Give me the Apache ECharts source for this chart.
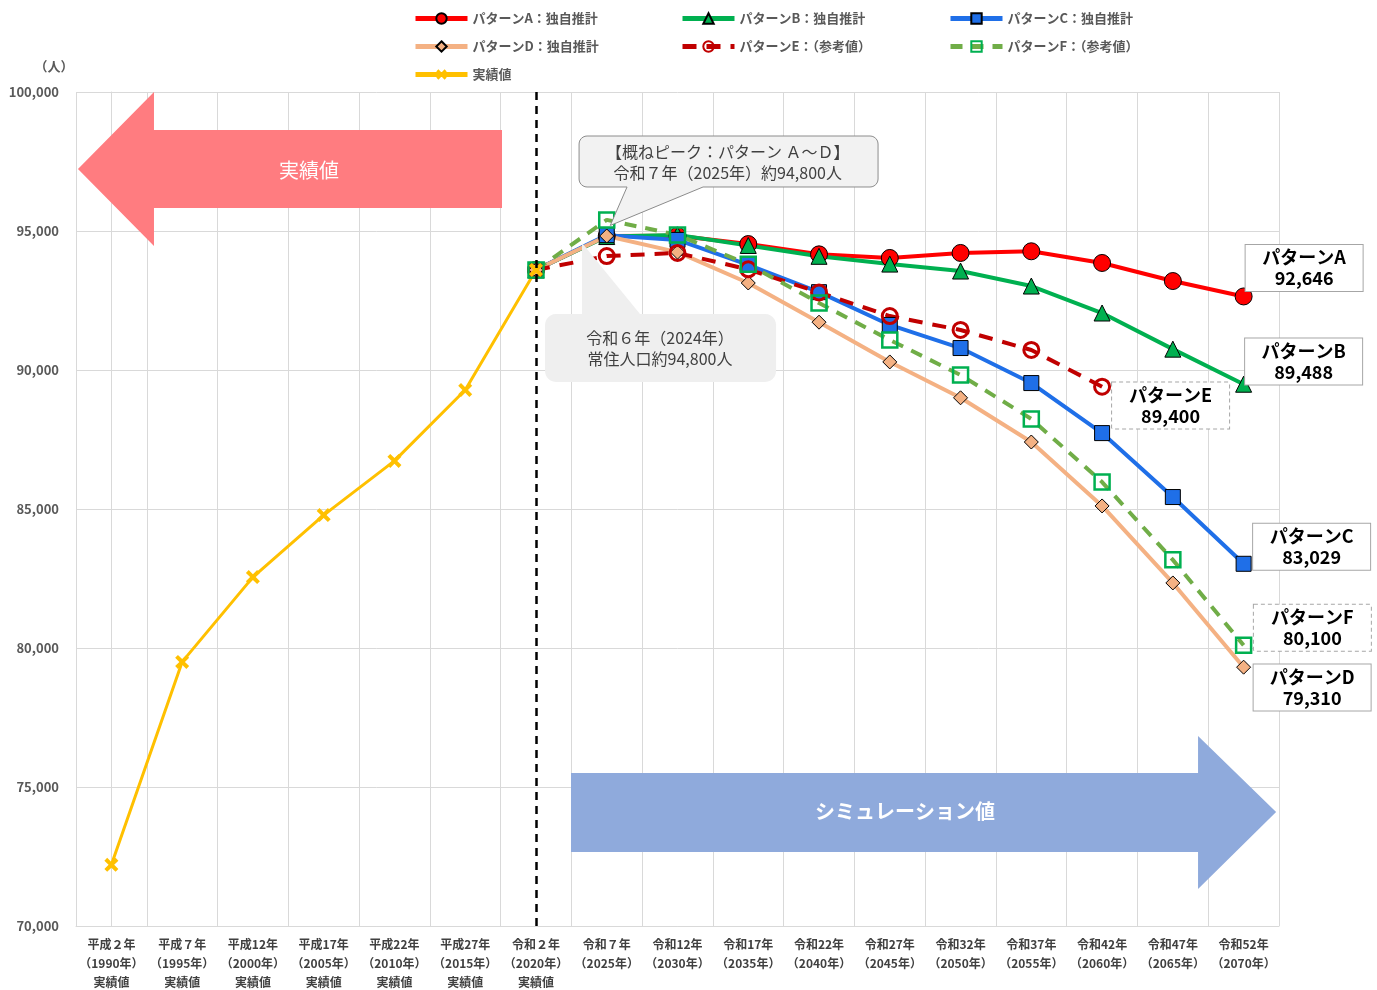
<!DOCTYPE html>
<html><head><meta charset="utf-8">
<script src="https://cdn.jsdelivr.net/npm/echarts@6/dist/echarts.min.js"></script>
<style>html,body{margin:0;padding:0;background:#fff}#c{width:1377px;height:990px}</style>
</head><body><div id="c"></div>
<script>
// ---- data ----
const categories = [
  '平成２年\n（1990年）\n実績値','平成７年\n（1995年）\n実績値','平成12年\n（2000年）\n実績値',
  '平成17年\n（2005年）\n実績値','平成22年\n（2010年）\n実績値','平成27年\n（2015年）\n実績値',
  '令和２年\n（2020年）\n実績値','令和７年\n（2025年）','令和12年\n（2030年）','令和17年\n（2035年）',
  '令和22年\n（2040年）','令和27年\n（2045年）','令和32年\n（2050年）','令和37年\n（2055年）',
  '令和42年\n（2060年）','令和47年\n（2065年）','令和52年\n（2070年）'
];
const yTicks = [70000, 75000, 80000, 85000, 90000, 95000, 100000];
const actual   = [72200, 79500, 82550, 84780, 86730, 89280, 93600];
// projections from 令和２年 (2020) onward
const patternA = [93600, 94820, 94830, 94530, 94160, 94030, 94210, 94270, 93850, 93200, 92646];
const patternB = [93600, 94800, 94860, 94480, 94090, 93810, 93560, 93020, 92050, 90750, 89488];
const patternC = [93600, 94850, 94680, 93780, 92800, 91620, 90790, 89530, 87730, 85430, 83029];
const patternD = [93600, 94820, 94240, 93130, 91720, 90290, 89000, 87410, 85110, 82340, 79310];
const patternE = [93600, 94100, 94210, 93620, 92790, 91940, 91440, 90720, 89400];
const patternF = [93600, 95400, 94860, 93800, 92410, 91080, 89820, 88240, 85970, 83170, 80100];
const names = ['パターンA：独自推計','パターンB：独自推計','パターンC：独自推計',
  'パターンD：独自推計','パターンE：（参考値）','パターンF：（参考値）','実績値'];
const endNames = ['パターンA','パターンB','パターンC','パターンD','パターンE','パターンF'];

// ---- helpers ----
const FONT = '"Noto Sans CJK JP","Noto Sans",sans-serif';
function pad(arr){ return Array(6).fill(null).concat(arr); }
function endLabel(arr, label, offset, dashed){
  const d = pad(arr);
  const last = 6 + arr.length - 1;
  return d.map((v,i)=> i!==last ? v : {value:v, label:{
    show:true, position:'right', distance:0, offset:offset, align:'center', verticalAlign:'middle',
    formatter: label + '\n' + v.toLocaleString('en-US'),
    fontFamily: FONT, fontWeight:'bold', fontSize:18, color:'#000', lineHeight:21,
    width:97, padding:[2,10], backgroundColor:'#fff', borderColor:'#a6a6a6', borderWidth:1,
    borderType: dashed ? [4,3] : 'solid'
  }});
}
function roundPoly(x1,y1,x2,y2,r,topIns,botIns){
  const pts=[];
  const arc=(cx,cy,a0,a1)=>{for(let i=0;i<=6;i++){const a=a0+(a1-a0)*i/6;pts.push([cx+r*Math.cos(a),cy+r*Math.sin(a)]);}};
  arc(x1+r,y1+r,Math.PI,1.5*Math.PI);
  if(topIns) pts.push(...topIns);
  arc(x2-r,y1+r,1.5*Math.PI,2*Math.PI);
  arc(x2-r,y2-r,0,0.5*Math.PI);
  if(botIns) pts.push(...botIns);
  arc(x1+r,y2-r,0.5*Math.PI,Math.PI);
  return pts;
}
const xPath = 'path://M0,2 L2,0 L5,3 L8,0 L10,2 L7,5 L10,8 L8,10 L5,7 L2,10 L0,8 L3,5 Z';

function annotations(params, api){
  const c = (x,y)=>api.coord([x,y]);
  const corner = c(-0.5, 100000);
  const pink = [c(-0.472,97230), c(0.602,100000), c(0.602,98633), c(5.52,98633),
                c(5.52,95827), c(0.602,95827), c(0.602,94461)];
  const pinkT = c(2.793,97194);
  const blue = [c(6.495,75505), c(15.356,75505), c(15.356,76835), c(16.459,74105),
                c(15.356,71332), c(15.356,72663), c(6.495,72663)];
  const blueT = c(11.216,74105);
  const b1a = c(6.609,98417), b1b = c(10.834,96583);
  const b1 = roundPoly(b1a[0],b1a[1],b1b[0],b1b[1],8,null,
     [c(8.361,96583), c(7.05,95200), c(7.287,96583)]);
  const b1T = c(8.71,97482);
  const b2a = c(6.128,92015), b2b = c(9.393,89569);
  const b2 = roundPoly(b2a[0],b2a[1],b2b[0],b2b[1],11,
     [c(6.651,92015), c(6.651,94568), c(7.47,92015)], null);
  const b2T = c(7.753,90792);
  return {type:'group', children:[
    {type:'text', x:corner[0]-22, y:corner[1]-26, style:{text:'（人）', fill:'#595959', fontSize:13,
      fontWeight:'bold', fontFamily:FONT, align:'center', verticalAlign:'middle'}},
    {type:'polygon', shape:{points:pink}, style:{fill:'#FF7C80'}},
    {type:'text', x:pinkT[0], y:pinkT[1], style:{text:'実績値', fill:'#fff', fontSize:20,
      fontFamily:FONT, align:'center', verticalAlign:'middle'}},
    {type:'polygon', shape:{points:blue}, style:{fill:'#8FAADC'}},
    {type:'text', x:blueT[0], y:blueT[1], style:{text:'シミュレーション値', fill:'#fff', fontSize:20,
      fontWeight:'bold', fontFamily:FONT, align:'center', verticalAlign:'middle'}},
    {type:'polygon', shape:{points:b2}, style:{fill:'#EFEFEF'}},
    {type:'text', x:b2T[0], y:b2T[1], style:{text:'令和６年（2024年）\n常住人口約94,800人', fill:'#404040',
      fontSize:16, lineHeight:21, fontFamily:FONT, align:'center', verticalAlign:'middle'}},
    {type:'polygon', shape:{points:b1}, style:{fill:'#F2F2F2', stroke:'#8c8c8c', lineWidth:1}},
    {type:'text', x:b1T[0], y:b1T[1], style:{text:'【概ねピーク：パターン Ａ～Ｄ】\n令和７年（2025年）約94,800人', fill:'#404040',
      fontSize:16, lineHeight:21, fontFamily:FONT, align:'center', verticalAlign:'middle'}}
  ]};
}

const chart = echarts.init(document.getElementById('c'));
const legendPos = [[413,12],[680,12],[948,12],[413,40],[680,40],[948,40],[413,68]];
const lineBase = {type:'line', connectNulls:false, z:2, animation:false};

chart.setOption({
  animation:false,
  backgroundColor:'#fff',
  textStyle:{fontFamily:FONT},
  legend: names.map((n,i)=>({data:[n], left:legendPos[i][0], top:legendPos[i][1], padding:0,
    itemWidth:52, itemHeight:13, selectedMode:false, lineStyle:{width:5},
    textStyle:{fontFamily:FONT, fontWeight:'bold', fontSize:13, color:'#595959'}})),
  grid:{left:76, right:98, top:92, bottom:64, containLabel:false, outerBoundsMode:'none'},
  xAxis:[{
    type:'category', data:categories, boundaryGap:true,
    axisLine:{lineStyle:{color:'#d9d9d9'}}, axisTick:{show:false},
    splitLine:{show:true, lineStyle:{color:'#d9d9d9'}},
    axisLabel:{interval:0, fontFamily:FONT, fontWeight:'bold', fontSize:12, color:'#404040', lineHeight:19, margin:9}
  },{
    type:'value', min:-0.5, max:16.5, show:false
  }],
  yAxis:{
    type:'value', min:yTicks[0], max:yTicks[yTicks.length-1], interval:5000,
    axisLine:{show:true, lineStyle:{color:'#d9d9d9'}}, axisTick:{show:false},
    splitLine:{lineStyle:{color:'#d9d9d9'}},
    axisLabel:{fontFamily:FONT, fontWeight:'bold', fontSize:13, color:'#595959', margin:17,
      formatter:v=>v.toLocaleString('en-US')}
  },
  series:[
    {type:'custom', xAxisIndex:1, yAxisIndex:0, data:[[0,0]], renderItem:annotations, silent:true, z:5, clip:false},
    Object.assign({}, lineBase, {name:names[0], data:endLabel(patternA, endNames[0], [51.5,-28.5]),
      symbol:'circle', symbolSize:17, lineStyle:{color:'#FF0000', width:4},
      itemStyle:{color:'#FF0000', borderColor:'#000', borderWidth:1}}),
    Object.assign({}, lineBase, {name:names[1], data:endLabel(patternB, endNames[1], [51.5,-22.7]),
      symbol:'triangle', symbolSize:16, lineStyle:{color:'#00B050', width:4},
      itemStyle:{color:'#00B050', borderColor:'#000', borderWidth:1}}),
    Object.assign({}, lineBase, {name:names[2], data:endLabel(patternC, endNames[2], [60,-17]),
      symbol:'rect', symbolSize:15, lineStyle:{color:'#1F6FE8', width:4},
      itemStyle:{color:'#1F6FE8', borderColor:'#000', borderWidth:1}}),
    Object.assign({}, lineBase, {name:names[3], data:endLabel(patternD, endNames[3], [61,20.3]),
      symbol:'diamond', symbolSize:14, lineStyle:{color:'#F4B183', width:4},
      itemStyle:{color:'#F4B183', borderColor:'#000', borderWidth:1}}),
    Object.assign({}, lineBase, {name:names[4], data:endLabel(patternE, endNames[4], [59.5,18.8], true),
      symbol:'circle', symbolSize:15, lineStyle:{color:'#C00000', width:4, type:[14,10]},
      itemStyle:{color:'rgba(255,255,255,0)', borderColor:'#C00000', borderWidth:3}}),
    Object.assign({}, lineBase, {name:names[5], data:endLabel(patternF, endNames[5], [60,-17.4], true),
      symbol:'rect', symbolSize:15, lineStyle:{color:'#70AD47', width:4, type:[12,9]},
      itemStyle:{color:'rgba(255,255,255,0)', borderColor:'#00B050', borderWidth:2.5}}),
    Object.assign({}, lineBase, {name:names[6], data:actual,
      symbol:xPath, symbolSize:14, lineStyle:{color:'#FFC000', width:3},
      itemStyle:{color:'#FFC000'},
      markLine:{silent:true, symbol:'none', label:{show:false},
        lineStyle:{color:'#000', width:2.5, type:[8,6]},
        data:[{xAxis:6}]}})
  ]
});
</script></body></html>
